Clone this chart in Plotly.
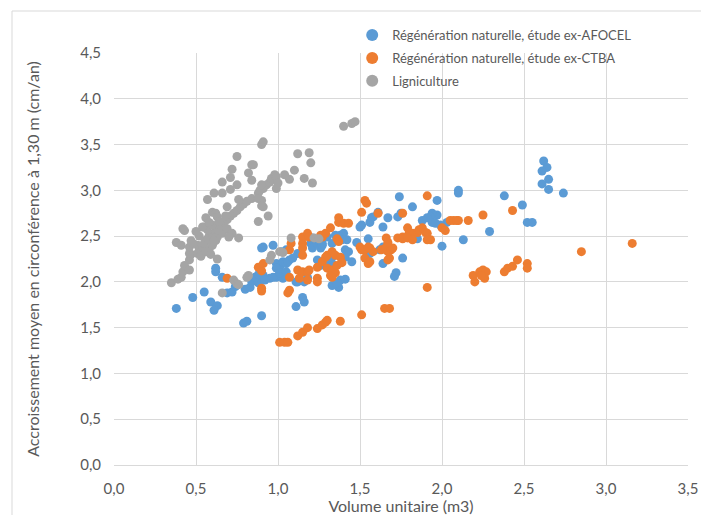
import plotly.graph_objects as go

# Régénération naturelle, étude ex-AFOCEL
afocel_x = [0.38,0.48,0.55,0.59,0.63,0.61,0.62,0.62,0.66,0.69,0.72,0.74,0.79,0.81,0.80,0.83,0.84,0.88,0.89,0.91,0.90,
            0.91,0.97,0.99,1.01,1.03,1.05,1.07,0.95,0.99,1.03,1.11,0.86,0.88,0.92,0.97,0.99,1.01,1.05,1.06,1.12,1.16,1.18,
            1.12,1.11,1.15,1.16,1.20,1.21,1.24,1.26,1.27,1.21,1.24,1.27,1.30,1.35,1.37,1.33,1.38,1.40,1.39,1.24,1.26,1.29,
            1.33,1.33,1.33,1.33,1.37,1.38,1.41,1.36,1.41,1.43,1.45,1.41,1.42,1.48,1.55,1.50,1.64,1.51,1.57,1.56,1.58,1.67,
            1.73,1.75,1.61,1.64,1.62,1.66,1.56,1.64,1.72,1.71,1.76,1.74,1.97,2.10,2.10,1.82,2.38,2.49,2.52,2.55,2.29,2.13,
            2.00,2.03,1.99,1.97,1.94,1.93,1.91,1.88,1.94,1.96,1.85,2.62,2.64,2.61,2.65,2.61,2.65,2.74,1.05,1.02,1.09,0.90]
afocel_y = [1.71,1.83,1.89,1.78,1.74,1.69,2.15,2.11,2.05,1.88,1.89,1.95,1.55,1.57,1.92,1.94,2.00,1.99,2.04,2.07,1.63,
            2.38,2.40,2.20,2.16,2.22,2.20,2.24,2.04,2.05,2.04,2.00,2.05,2.08,2.02,2.05,2.15,2.10,2.11,2.22,2.00,2.00,2.05,
            2.31,1.73,1.83,1.78,2.42,2.37,2.42,2.37,2.42,2.48,2.46,2.40,2.49,2.51,2.48,2.42,2.51,2.53,2.46,2.24,2.18,2.22,
            2.27,2.20,2.16,1.96,1.94,2.02,2.03,1.99,2.35,2.33,2.22,2.27,2.46,2.43,2.47,2.60,2.60,2.62,2.70,2.65,2.71,2.70,
            2.71,2.75,2.76,2.38,2.35,2.35,2.31,2.20,2.10,2.06,2.26,2.93,2.89,3.00,2.97,2.82,2.94,2.84,2.65,2.65,2.55,2.46,
            2.39,2.65,2.62,2.73,2.75,2.71,2.70,2.67,2.65,2.64,2.47,3.32,3.25,3.21,3.12,3.07,3.01,2.97,2.35,2.33,2.26,2.37]

# Régénération naturelle, étude ex-CTBA
ctba_x = [0.69,0.88,0.90,0.90,0.90,1.07,1.06,1.07,1.01,1.04,1.06,1.12,1.15,1.18,1.24,1.27,1.29,1.30,1.38,1.51,1.65,1.68,
          1.12,1.15,1.18,1.19,1.13,1.18,1.07,1.08,1.15,1.15,1.15,1.15,1.18,1.19,1.26,1.27,1.29,1.24,1.24,1.24,1.27,1.29,
          1.30,1.33,1.35,1.30,1.33,1.32,1.35,1.33,1.36,1.38,1.39,1.32,1.37,1.40,1.43,1.37,1.36,1.37,1.51,1.61,1.53,1.54,
          1.50,1.51,1.53,1.56,1.58,1.55,1.53,1.55,1.56,1.63,1.66,1.67,1.69,1.70,1.66,1.67,1.68,1.67,1.73,1.76,1.91,1.76,
          2.25,2.16,2.05,2.07,2.09,2.10,2.00,2.02,1.79,1.80,1.82,1.85,1.86,1.88,1.90,1.91,1.93,1.91,1.76,1.79,1.82,1.91,
          2.19,2.20,2.23,2.25,2.27,2.26,2.24,2.38,2.40,2.43,2.46,2.43,2.52,2.52,2.85,3.16,0.91]
ctba_y = [2.04,2.16,2.12,1.90,1.93,2.05,1.88,1.91,1.34,1.34,1.34,1.41,1.45,1.50,1.49,1.53,1.56,1.58,1.57,1.64,1.71,1.71,
          2.13,2.11,2.11,2.13,2.04,2.02,2.35,2.42,2.49,2.42,2.37,2.29,2.53,2.49,2.51,2.49,2.53,2.16,2.04,2.00,2.22,2.27,
          2.29,2.33,2.29,2.15,2.13,2.07,2.10,2.05,2.18,2.27,2.21,2.59,2.65,2.64,2.64,2.70,2.47,2.44,2.76,2.75,2.89,2.86,
          2.38,2.35,2.35,2.37,2.33,2.38,2.26,2.20,2.22,2.35,2.38,2.33,2.35,2.37,2.48,2.43,2.26,2.24,2.48,2.49,2.94,2.75,
          2.73,2.67,2.67,2.67,2.67,2.67,2.59,2.56,2.59,2.54,2.53,2.54,2.57,2.59,2.54,2.53,2.46,2.46,2.47,2.48,2.46,1.94,
          2.07,2.00,2.11,2.13,2.11,2.04,2.07,2.11,2.15,2.17,2.24,2.78,2.20,2.15,2.33,2.42,2.20]

# Ligniculture
lign_x = [0.35,0.39,0.41,0.42,0.43,0.46,0.46,0.47,0.46,0.51,0.38,0.41,0.42,0.43,0.46,0.47,0.48,0.51,0.52,0.54,0.55,0.56,
          0.57,0.58,0.60,0.62,0.63,0.65,0.67,0.69,0.71,0.73,0.75,0.77,0.79,0.81,0.84,0.55,0.57,0.58,0.60,0.53,0.56,0.59,
          0.62,0.63,0.66,0.69,0.72,0.76,0.70,0.56,0.57,0.60,0.62,0.63,0.61,0.66,0.66,0.71,0.71,0.72,0.75,0.75,0.76,0.84,
          0.82,0.84,0.85,0.88,0.88,0.90,0.89,0.91,0.93,0.95,0.96,0.98,0.99,1.00,0.99,0.90,0.91,0.88,0.90,0.94,0.69,0.90,
          0.91,1.04,1.07,1.10,1.12,1.16,1.19,1.20,1.21,1.40,1.45,1.47,0.96,0.95,1.01,1.03,1.08,1.22,1.25,0.82,0.81,0.73,
          0.75,0.76,0.66,0.63,0.52,0.50,0.54,0.60,0.64,0.68,0.58,0.61]
lign_y = [1.99,2.03,2.05,2.11,2.18,2.13,2.24,2.30,2.31,2.31,2.43,2.40,2.58,2.56,2.38,2.45,2.42,2.40,2.35,2.38,2.42,2.45,
          2.47,2.50,2.52,2.55,2.58,2.62,2.65,2.68,2.72,2.75,2.78,2.82,2.85,2.88,2.91,2.60,2.57,2.35,2.40,2.28,2.33,2.30,
          2.45,2.49,2.53,2.58,2.53,2.48,2.49,2.70,2.90,2.76,2.75,2.71,2.97,2.97,3.09,3.01,3.14,3.23,3.06,3.37,2.90,3.28,
          3.19,3.11,3.28,2.97,2.91,2.89,3.00,3.02,3.06,3.09,3.13,3.17,3.15,3.08,3.02,3.06,2.82,2.66,2.83,2.72,2.82,3.50,
          3.53,3.17,3.12,3.22,3.40,3.13,3.41,3.30,3.08,3.70,3.73,3.75,2.29,2.24,2.33,2.32,2.48,2.48,2.47,2.07,2.05,2.02,
          1.98,1.97,1.88,2.25,2.50,2.55,2.60,2.62,2.66,2.72,2.65,2.45]

x_ticks = [0.0, 0.5, 1.0, 1.5, 2.0, 2.5, 3.0, 3.5]
y_ticks = [0.0, 0.5, 1.0, 1.5, 2.0, 2.5, 3.0, 3.5, 4.0, 4.5]

FONT = "Lato, Open Sans, sans-serif"
TXT = "#595959"
GRID = "#D9D9D9"

fig = go.Figure()
series = [
    ("Régénération naturelle, étude ex-AFOCEL", afocel_x, afocel_y, "#5B9BD5"),
    ("Régénération naturelle, étude ex-CTBA", ctba_x, ctba_y, "#ED7D31"),
    ("Ligniculture", lign_x, lign_y, "#A5A5A5"),
]
for i, (name, xs, ys, col) in enumerate(series):
    fig.add_trace(go.Scatter(
        x=xs, y=ys, mode="markers", name=name, legendgroup=f"g{i}",
        marker=dict(color=col, size=9, line=dict(width=0)),
    ))

fig.update_layout(
    width=701, height=515,
    margin=dict(l=114, r=13, t=53, b=50, autoexpand=False),
    paper_bgcolor="white", plot_bgcolor="white",
    separators=", ",
    font=dict(family=FONT, size=13, color=TXT),
    showlegend=True,
    legend=dict(
        x=0.415, y=1.08, xanchor="left", yanchor="top",
        bgcolor="rgba(0,0,0,0)", font=dict(size=13, color=TXT),
        tracegroupgap=3, itemsizing="constant",
    ),
    xaxis=dict(
        range=[0, 3.5], tickvals=x_ticks, tickformat=".1f", automargin=False,
        showgrid=True, gridcolor=GRID, gridwidth=1, zeroline=False,
        showline=True, linecolor=GRID, linewidth=1,
        ticks="", ticklabelstandoff=10, tickfont=dict(size=15, color=TXT),
        title=dict(text="Volume unitaire (m3)", font=dict(size=16, color=TXT), standoff=7),
        fixedrange=True,
    ),
    yaxis=dict(
        range=[0, 4.5], tickvals=y_ticks, tickformat=".1f", automargin=False,
        showgrid=True, gridcolor=GRID, gridwidth=1, zeroline=False,
        showline=False, ticks="", ticklabelstandoff=12, tickfont=dict(size=15, color=TXT),
        title=dict(text="Accroissement moyen en circonférence à 1,30 m (cm/an)",
                   font=dict(size=16, color=TXT), standoff=36),
        fixedrange=True,
    ),
    shapes=[dict(type="rect", xref="paper", yref="paper",
                 x0=(12 - 114) / 574, x1=1.3, y0=-0.3, y1=(465 - 11) / 412,
                 line=dict(color=GRID, width=1), fillcolor="rgba(0,0,0,0)", layer="below")],
)

fig.write_html("out.html")
